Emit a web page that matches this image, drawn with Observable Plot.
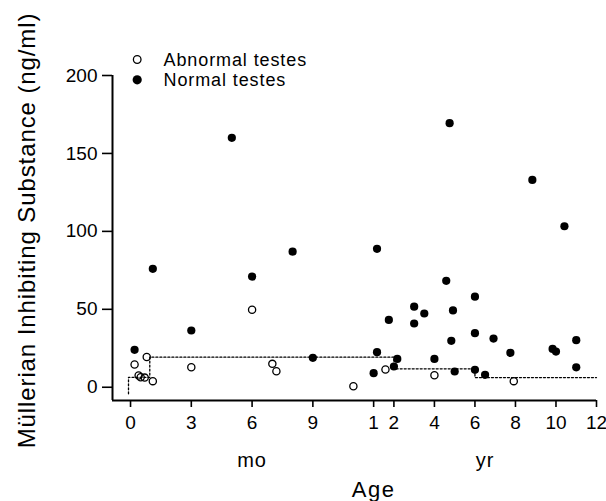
<!DOCTYPE html>
<html><head><meta charset="utf-8">
<script src="https://cdn.jsdelivr.net/npm/d3@7"></script>
<script src="https://cdn.jsdelivr.net/npm/@observablehq/plot@0.6"></script>
<style>html,body{margin:0;padding:0;background:#fff}</style>
</head><body><div id="chart"></div>
<script>
// Ages in months (values >= 12 months are drawn on the "yr" part of the axis)
const normalAge = [0.2, 1.1, 3, 5, 6, 8, 9,
  12, 14, 14, 21, 24, 26, 36, 36, 42, 48, 55, 57, 58, 59, 60,
  72, 72, 72, 78, 83, 93, 106, 118, 120, 125, 132, 132];
const normalMIS = [24, 76, 36.4, 160, 71, 87, 18.9,
  9.0, 22.5, 88.8, 43.2, 13.3, 18.2, 51.7, 40.9, 47.3, 18.2, 68.3, 169.4, 29.8, 49.3, 10.1,
  58.1, 34.7, 11.2, 8.0, 31.2, 22.1, 133, 24.6, 22.9, 103.3, 30.2, 12.8];
const abnormalAge = [0.2, 0.8, 0.4, 0.5, 0.7, 1.1, 3, 6, 7, 7.2, 11, 19, 48, 95];
const abnormalMIS = [14.6, 19.4, 7.5, 6.4, 6.2, 3.9, 12.8, 49.7, 15.0, 10.3, 0.6, 11.4, 7.7, 3.9];
// dotted step line (group medians)
const medianAge = [-0.1, -0.1, 0.95, 24, 72, 144];
const medianMIS = [-4.2, 6.4, 19.3, 11.8, 6.2, 6.2];
// axis ticks
const xTickAge = [0, 3, 6, 9, 12, 24, 48, 72, 96, 120, 144];
const xTickLabels = ["0", "3", "6", "9", "1", "2", "4", "6", "8", "10", "12"];
const yTicks = [0, 50, 100, 150, 200];
const legendLabels = ["Abnormal testes", "Normal testes"];
const yLabel = "Müllerian Inhibiting Substance (ng/ml)";
const xLabel = "Age";
const unitLabels = ["mo", "yr"];

// axis position: months 0..12 then years 1..12
const pos = m => (m < 12 ? m : 11 + m / 12);
const xDomain = [-0.89, 23];
const yDomain = [-8.5, 200];
const font = "'Liberation Sans', Arial, Helvetica, sans-serif";

const normal = normalAge.map((a, i) => ({x: pos(a), y: normalMIS[i]}));
const abnormal = abnormalAge.map((a, i) => ({x: pos(a), y: abnormalMIS[i]}));
const median = medianAge.map((a, i) => ({x: pos(a), y: medianMIS[i]}));
const xTickPos = xTickAge.map(pos);
const units = [
  {label: unitLabels[0], x: (pos(0) + pos(12)) / 2},
  {label: unitLabels[1], x: (pos(12) + pos(144)) / 2}
];

const chart = Plot.plot({
  width: 606, height: 501,
  marginLeft: 112, marginRight: 10, marginTop: 75, marginBottom: 101,
  style: {fontFamily: font, background: "white", color: "black"},
  x: {domain: xDomain},
  y: {domain: yDomain},
  marks: [
    Plot.ruleY([yDomain[0]], {stroke: "black", strokeWidth: 2}),
    Plot.ruleX([xDomain[0]], {stroke: "black", strokeWidth: 2}),
    Plot.axisY(yTicks, {tickSize: 10, tickPadding: 5, fontSize: 19, strokeWidth: 1.6, label: null}),
    Plot.axisX(xTickPos, {tickSize: 7, tickPadding: 8, fontSize: 19, strokeWidth: 1.6, label: null,
      tickFormat: d => xTickLabels[xTickPos.indexOf(d)]}),
    Plot.line(median, {x: "x", y: "y", curve: "step-after", stroke: "black", strokeWidth: 1.3, strokeDasharray: "2,2"}),
    Plot.dot(normal, {x: "x", y: "y", r: 4.1, fill: "black"}),
    Plot.dot(abnormal, {x: "x", y: "y", r: 3.6, fill: "none", stroke: "black", strokeWidth: 1.3}),
    // legend
    Plot.dot([0], {frameAnchor: "top-left", dx: 24.7, dy: -16, r: 3.8, fill: "none", stroke: "black", strokeWidth: 1.3}),
    Plot.dot([0], {frameAnchor: "top-left", dx: 24.7, dy: 4.3, r: 4.6, fill: "black"}),
    Plot.text([legendLabels[0]], {frameAnchor: "top-left", dx: 51, dy: -15, textAnchor: "start", lineAnchor: "middle", fontSize: 18}),
    Plot.text([legendLabels[1]], {frameAnchor: "top-left", dx: 51, dy: 5, textAnchor: "start", lineAnchor: "middle", fontSize: 18}),
    // unit labels and axis titles
    Plot.text(units, {x: "x", text: "label", frameAnchor: "bottom", lineAnchor: "middle", dy: 60.3, fontSize: 20}),
    Plot.text([{label: xLabel, x: pos(12)}], {x: "x", text: "label", frameAnchor: "bottom", lineAnchor: "middle", dy: 89.7, fontSize: 22}),
    Plot.text([yLabel], {frameAnchor: "left", textAnchor: "middle", lineAnchor: "middle", rotate: -90, dx: -84.7, dy: -7.5, fontSize: 24})
  ]
});

const spacing = {};
legendLabels.forEach(l => spacing[l] = "0.9px");
spacing[yLabel] = "0.9px";
unitLabels.forEach(l => spacing[l] = "1px");
spacing[xLabel] = "1.5px";
d3.select(chart).selectAll("text").each(function () {
  const s = spacing[this.textContent];
  if (s) this.style.letterSpacing = s;
});
document.getElementById("chart").appendChild(chart);
</script>
</body></html>
